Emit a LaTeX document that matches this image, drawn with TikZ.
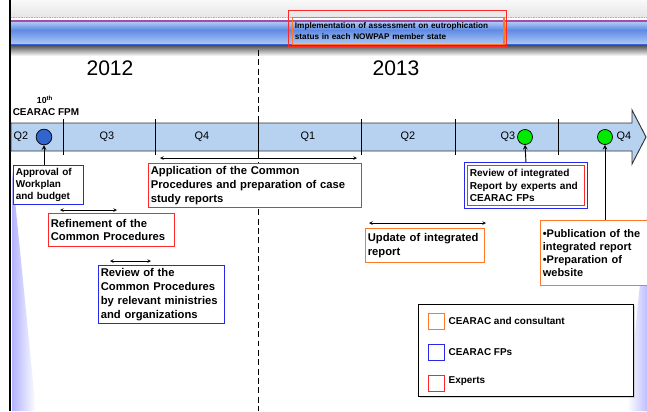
\documentclass[tikz,border=0pt]{standalone}
\usepackage{fontspec}
\setmainfont{Liberation Sans}
\usetikzlibrary{arrows,shadows}

\definecolor{expertred}{RGB}{255,40,40}
\definecolor{fpblue}{RGB}{40,40,235}
\definecolor{consorange}{RGB}{255,120,40}
\definecolor{barblue}{RGB}{182,210,240}
\definecolor{fpmdot}{RGB}{50,100,205}
\definecolor{reviewdot}{RGB}{0,235,0}
\definecolor{bandlight}{RGB}{172,200,245}
\definecolor{banddark}{RGB}{85,130,225}
\definecolor{bandline}{RGB}{60,100,215}

\begin{document}
\begin{tikzpicture}
  [
    >=stealth,
    x=0.03cm, y=-0.03cm,
    task/.style={draw, line width=0.8pt, fill=white, anchor=north west, align=left,
      inner sep=2pt, font=\bfseries\fontsize{9.6}{11.8}\selectfont},
    quarter/.style={font=\fontsize{9.3}{10}\selectfont},
    milestone/.style={circle, draw=black, line width=0.6pt, minimum size=0.47cm, inner sep=0pt},
    legendsquare/.style={draw, line width=0.8pt, minimum size=0.48cm, inner sep=0pt},
    legendtext/.style={anchor=west, font=\bfseries\fontsize{8.5}{10}\selectfont},
  ]
  \useasboundingbox (0,0) rectangle (647,411);

  % header band
  \shade [top color=gray!5, bottom color=gray!20] (11,0) rectangle (647,17);
  \draw [gray!60, densely dotted] (11,17) -- (647,17);
  \draw [violet!70, line width=1pt] (11,21) -- (647,21);
  \shade [top color=bandlight, bottom color=banddark] (11,22) rectangle (647,31);
  \shade [top color=banddark!80!bandlight, bottom color=bandlight] (11,31) rectangle (647,44);
  \draw [bandline, line width=0.8pt] (11,44) -- (647,44);
  \shade [top color=gray!60!black, bottom color=white] (11,45) rectangle (647,56);

  % side wedges
  \shade [left color=blue!30, right color=white] (12,170) -- (12,411) -- (36,411) -- cycle;
  \shade [left color=white, right color=blue!25] (647,215) -- (647,411) -- (627,411) -- cycle;
  \draw [line width=2.5pt] (10,0) -- (10,411);

  % top task
  \node [draw=expertred, line width=1pt, minimum width=6.54cm, minimum height=1.08cm,
    anchor=north west] (implframe) at (288,10) {};
  \node [draw=consorange, line width=1pt, anchor=north west, align=left, inner sep=2pt,
    text width=6.2cm, minimum height=0.81cm, font=\bfseries\fontsize{7}{10}\selectfont]
    (impl) at (292,17) {Implementation of assessment on eutrophication\\status in each NOWPAP member state};

  % years
  \draw [line width=0.8pt, dash pattern=on 5pt off 3pt] (258,50) -- (258,411);
  \node [font=\fontsize{18}{20}\selectfont] (y2012) at (110,68) {2012};
  \node [font=\fontsize{18}{20}\selectfont] (y2013) at (396,68) {2013};
  \node [font=\bfseries\fontsize{7.5}{9}\selectfont] (tenth) at (45,100) {10\textsuperscript{th}};
  \node [font=\bfseries\fontsize{8.5}{9}\selectfont] (fpmlabel) at (46,112) {CEARAC FPM};

  % time line
  \draw [fill=barblue, draw=gray!40!black, line width=0.8pt]
    (11,123) -- (632,123) -- (632,110) -- (646,137) -- (632,164) -- (632,151) -- (11,151) -- cycle;
  \foreach \x in {63,155,258,361,455,558}
    \draw [line width=0.8pt] (\x,119) -- (\x,155);
  \node [quarter] (q2a) at (21,137) {Q2};
  \node [quarter] (q3a) at (107,137) {Q3};
  \node [quarter] (q4a) at (202,137) {Q4};
  \node [quarter] (q1b) at (308,137) {Q1};
  \node [quarter] (q2b) at (408,137) {Q2};
  \node [quarter] (q3b) at (508,137) {Q3};
  \node [quarter] (q4b) at (624,137) {Q4};
  \node [milestone, fill=fpmdot] (fpm) at (44,137) {};
  \node [milestone, fill=reviewdot, minimum size=0.45cm] (revdot) at (525,137) {};
  \node [milestone, fill=reviewdot, minimum size=0.45cm] (pubdot) at (605,137) {};

  % tasks
  \node [task, draw=fpblue, text width=1.96cm, minimum height=1.17cm,
    font=\bfseries\fontsize{8.5}{10.2}\selectfont] (approval) at (13,165)
    {Approval of\\Workplan\\and budget};
  \node [task, draw=expertred, text width=6.25cm, minimum height=1.32cm] (apply) at (148,163)
    {Application of the Common\\Procedures and preparation of case\\study reports};
  \node [task, draw=expertred, text width=3.64cm, minimum height=0.99cm] (refine) at (48,213)
    {Refinement of the\\Common Procedures};
  \node [task, draw=fpblue, text width=3.64cm, minimum height=1.74cm] (review) at (98,265)
    {Review of the\\Common Procedures\\by relevant ministries\\and organizations};
  \node [task, draw=fpblue, minimum width=3.69cm, minimum height=1.38cm] (revintframe) at (464,162) {};
  \node [task, draw=expertred, text width=3.37cm, minimum height=1.2cm,
    font=\bfseries\fontsize{8.6}{10.6}\selectfont] (revint) at (467,165)
    {Review of integrated\\Report by experts and\\CEARAC FPs};
  \node [task, draw=consorange, text width=3.43cm, minimum height=1.02cm] (update) at (365,228)
    {Update of integrated\\report};
  \node [task, draw=consorange, text width=3.13cm, minimum height=1.95cm,
    font=\bfseries\fontsize{9.4}{11.3}\selectfont] (publish) at (540,220)
    {•Publication of the\\integrated report\\•Preparation of\\website};

  % durations
  \coordinate (applyL) at (160,158);
  \coordinate (applyR) at (357,158);
  \coordinate (refineL) at (60,210);
  \coordinate (refineR) at (117,210);
  \coordinate (reviewL) at (110,261);
  \coordinate (reviewR) at (151,261);
  \coordinate (updateL) at (369,223);
  \coordinate (updateR) at (486,223);
  \draw [<->] (applyL) -- (applyR);
  \draw [<->] (refineL) -- (refineR);
  \draw [<->] (reviewL) -- (reviewR);
  \draw [<->] (updateL) -- (updateR);

  % milestone links
  \draw [->, line width=0.8pt] (approval.north -| fpm) -- (fpm.south);
  \draw [->, line width=0.8pt] (revintframe.north) -- (revdot.south);
  \draw [->, line width=0.8pt] (publish.north -| pubdot) -- (pubdot.south);

  % legend
  \node [draw, line width=0.8pt, fill=white, minimum width=6.45cm, minimum height=2.76cm,
    anchor=north west, drop shadow={shadow xshift=1.2pt, shadow yshift=-1.2pt, fill=gray!60}]
    (legend) at (418,304) {};
  \node [legendsquare, draw=consorange] (keycons) at (436,321) {};
  \node [legendsquare, draw=fpblue] (keyfp) at (436,352) {};
  \node [legendsquare, draw=expertred] (keyexp) at (436,383) {};
  \node [legendtext] (keyconstext) at (keycons.east) {CEARAC and consultant};
  \node [legendtext] (keyfptext) at (keyfp.east) {CEARAC FPs};
  \node [legendtext, yshift=2pt] (keyexptext) at (keyexp.east) {Experts};
\end{tikzpicture}
\end{document}
